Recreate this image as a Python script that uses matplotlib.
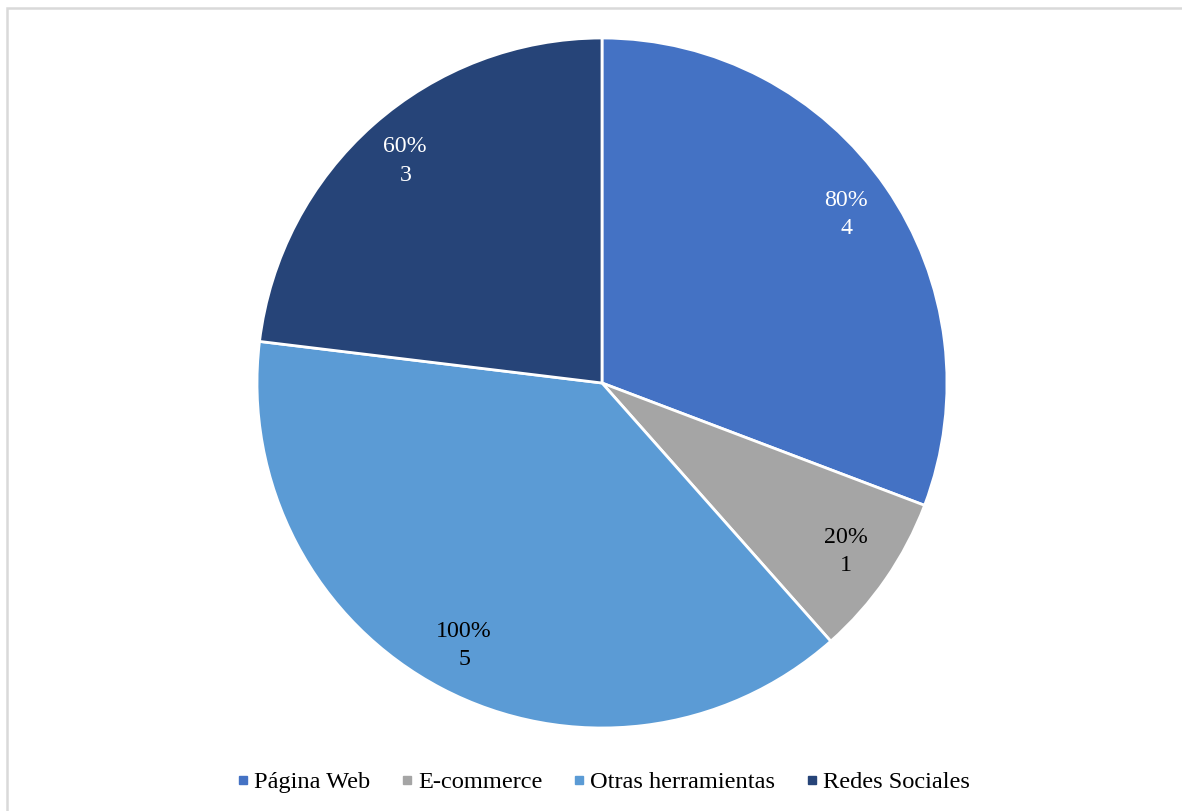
import matplotlib.pyplot as plt
from matplotlib.lines import Line2D
from matplotlib.patches import Rectangle

# Herramientas digitales usadas
categories = ["Página Web", "E-commerce", "Otras herramientas", "Redes Sociales"]
values = [4, 1, 5, 3]
percent_labels = ["80%", "20%", "100%", "60%"]
colors = ["#4472C4", "#A5A5A5", "#5B9BD5", "#264478"]
text_colors = ["white", "black", "black", "white"]

plt.rcParams["font.family"] = ["Liberation Serif", "DejaVu Serif"]

W, H = 1182, 811
fig = plt.figure(figsize=(W / 100, H / 100), dpi=100)

# light gray frame around the chart area
fig.patches.append(Rectangle((7 / W, -0.05), 1.2, 1 - 8 / H + 0.05,
                             transform=fig.transFigure, fill=False,
                             edgecolor="#D9D9D9", linewidth=1.8))

cx, cy, r = 602, 383, 345
ax = fig.add_axes([(cx - r) / W, (H - cy - r) / H, 2 * r / W, 2 * r / H])

labels = [f"{p}\n{v}" for p, v in zip(percent_labels, values)]
wedges, texts = ax.pie(values, colors=colors, startangle=90, counterclock=False,
                       radius=1, labels=labels, labeldistance=0.86,
                       wedgeprops=dict(edgecolor="white", linewidth=2))
for t, c in zip(texts, text_colors):
    t.set_color(c)
    t.set_fontsize(17.2)
    t.set_horizontalalignment("center")
    t.set_verticalalignment("center")
    t.set_linespacing(1.45)
ax.set_xlim(-1, 1)
ax.set_ylim(-1, 1)
ax.set_aspect("equal")

handles = [Line2D([], [], marker="s", linestyle="none", markersize=6,
                  markerfacecolor=c, markeredgecolor=c) for c in colors]
fig.legend(handles, categories, loc="center", bbox_to_anchor=(604 / W, 1 - 782 / H),
           ncol=4, frameon=False, fontsize=17.6, handlelength=0.4,
           handletextpad=0.25, columnspacing=1.3)

fig.savefig("out.png", dpi=100)
